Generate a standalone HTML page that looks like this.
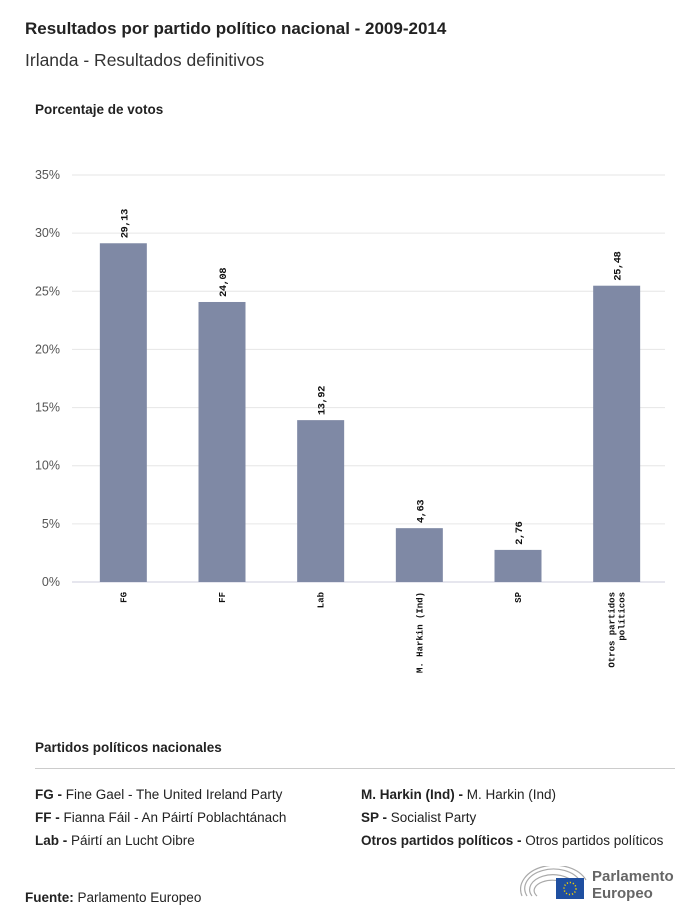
<!DOCTYPE html>
<html><head><meta charset="utf-8"><style>
body{margin:0;width:700px;height:923px;background:#fff;font-family:"Liberation Sans",sans-serif;color:#222;position:relative;overflow:hidden}
.a{position:absolute;white-space:nowrap}
.lg{font-size:13.5px}
</style></head><body>
<div class="a" style="left:25px;top:19px;font-size:17px;font-weight:bold">Resultados por partido político nacional - 2009-2014</div>
<div class="a" style="left:25px;top:50px;font-size:17.5px;color:#333">Irlanda - Resultados definitivos</div>
<div class="a" style="left:35px;top:102px;font-size:13.5px;font-weight:bold">Porcentaje de votos</div>
<svg id="chart" width="700" height="700" style="position:absolute;left:0;top:0"></svg>
<div class="a" style="left:35px;top:740px;font-size:13.5px;font-weight:bold">Partidos políticos nacionales</div>
<div class="a" style="left:35px;top:768px;width:640px;height:1px;background:#ccc"></div>
<div class="a lg" style="left:35px;top:787px"><b>FG - </b>Fine Gael - The United Ireland Party</div>
<div class="a lg" style="left:35px;top:810px"><b>FF - </b>Fianna Fáil - An Páirtí Poblachtánach</div>
<div class="a lg" style="left:35px;top:833px"><b>Lab - </b>Páirtí an Lucht Oibre</div>
<div class="a lg" style="left:361px;top:787px"><b>M. Harkin (Ind) - </b>M. Harkin (Ind)</div>
<div class="a lg" style="left:361px;top:810px"><b>SP - </b>Socialist Party</div>
<div class="a lg" style="left:361px;top:833px"><b>Otros partidos políticos - </b>Otros partidos políticos</div>
<div class="a lg" style="left:25px;top:890px"><b>Fuente:</b> Parlamento Europeo</div>
<div class="a" style="left:520px;top:866px;width:160px;height:40px">
<svg width="70" height="36" style="position:absolute;left:0;top:0">
<g fill="none" stroke="#aaa" stroke-width="1.2"><path d="M2 30 A34 24 0 0 1 66 14"/><path d="M7 30 A28 19 0 0 1 60 15"/><path d="M12 30 A22 14 0 0 1 54 17"/><path d="M17 30 A16 9 0 0 1 48 19"/></g>
<rect x="36" y="12" width="28" height="21" fill="#1f4fa0"/><circle cx="50" cy="22.5" r="6" fill="none" stroke="#f5d000" stroke-width="1.5" stroke-dasharray="1.2 1.9"/></svg>
<div class="a" style="left:72px;top:2px;font-size:15px;font-weight:bold;color:#666;line-height:17px">Parlamento<br>Europeo</div></div>
<script>
const categories=["FG","FF","Lab","M. Harkin (Ind)","SP","Otros partidos políticos"];
const values=[29.13,24.08,13.92,4.63,2.76,25.48];
const valueLabels=["29,13","24,08","13,92","4,63","2,76","25,48"];
const yTicks=[0,5,10,15,20,25,30,35];
const ns="http://www.w3.org/2000/svg",svg=document.getElementById("chart");
const x0=74,plotW=592,y0=582,yTop=175,yMax=35;
const band=plotW/categories.length,bw=47;
const y=v=>y0-(v/yMax)*(y0-yTop);
const xc=i=>x0+band*(i+0.5);
function mk(t,a){const e=document.createElementNS(ns,t);for(const k in a)e.setAttribute(k,a[k]);svg.appendChild(e);return e;}
yTicks.forEach(t=>{
 const l=mk("line",{x1:x0-2,x2:665,y1:y(t),y2:y(t),stroke:t===0?"#ccd":"#e6e6e6","stroke-width":1});
 
 
 const tx=mk("text",{x:60,y:y(t)+4,"text-anchor":"end","font-size":12.5,fill:"#555","font-family":"Liberation Sans, sans-serif"});
 tx.textContent=t+"%";
 
 
});
values.forEach((v,i)=>{
 const r=mk("rect",{x:xc(i)-bw/2,y:y(v),width:bw,height:y0-y(v),fill:"#7f89a5"});
 
 
 const vl=mk("text",{transform:`translate(${xc(i)+4},${y(v)-5}) rotate(-90)`,"font-size":10.5,"font-weight":"bold",fill:"#111","font-family":"Liberation Mono, monospace","letter-spacing":"-0.5"});
 vl.textContent=valueLabels[i];
 
 
 const words=categories[i]==="Otros partidos políticos"?["Otros partidos","políticos"]:[categories[i]];
 words.forEach((w,j)=>{
  const off=(j-(words.length-1)/2)*10;
  const cl=mk("text",{transform:`translate(${xc(i)+3+off},${592}) rotate(-90)`,"text-anchor":"end","font-size":9,"font-weight":"bold",fill:"#111","font-family":"Liberation Mono, monospace"});
  cl.textContent=w;
  
  
 });
});
</script>
</body></html>
